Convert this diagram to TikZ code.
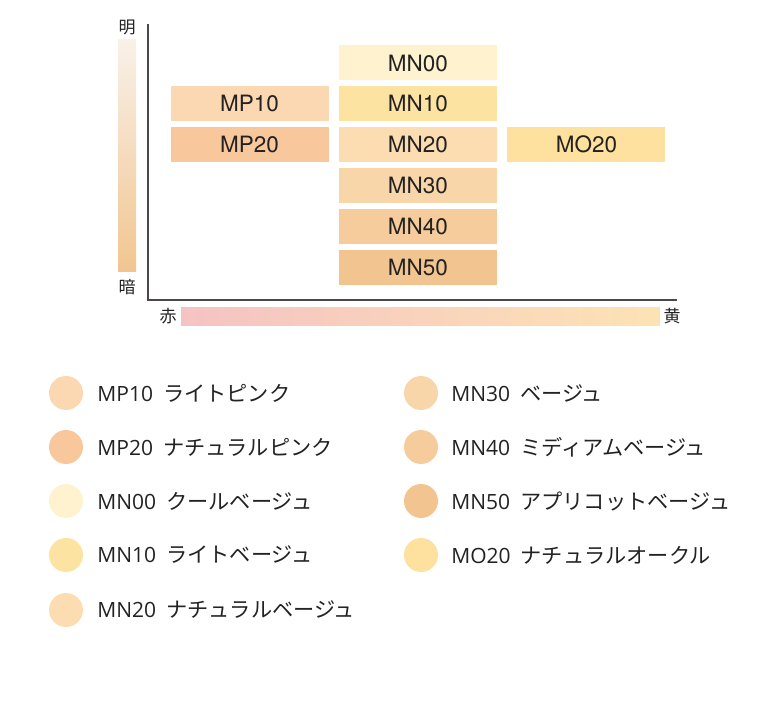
\documentclass[tikz,border=0pt]{standalone}
\usepackage{fontspec}
\usepackage{xcolor}
\usetikzlibrary{positioning}
\newfontfamily\jpfont{Noto Sans CJK JP}
\newfontfamily\codefont{Open Sans}
\newfontfamily\boxfont{TeX Gyre Heros}
\definecolor{cMNzz}{HTML}{FEF2CF}
\definecolor{cMNoz}{HTML}{FDE3A1}
\definecolor{cMNtz}{HTML}{FCDDB2}
\definecolor{cMNhz}{HTML}{F9D6AA}
\definecolor{cMNfz}{HTML}{F7CC9C}
\definecolor{cMNvz}{HTML}{F2C590}
\definecolor{cMPoz}{HTML}{FBD8B2}
\definecolor{cMPtz}{HTML}{F8C89C}
\definecolor{cMOtz}{HTML}{FEE19E}
\definecolor{scaletop}{HTML}{F8F1E8}
\definecolor{scalered}{HTML}{F5C3C3}
\definecolor{scaleyellow}{HTML}{FDE3B4}
\definecolor{axisgray}{HTML}{4E4646}
\definecolor{ink}{HTML}{222222}
\newcommand{\shadeitem}[2]{{\codefont\fontsize{21}{24}\selectfont #1}\hspace{10pt}#2}
\tikzset{
  shadebox/.style={minimum width=158pt, minimum height=35pt, inner sep=0pt,
                   font=\boxfont\fontsize{22.5}{25}\selectfont, text=ink},
  axislbl/.style={font=\jpfont\fontsize{17}{19}\selectfont, text=ink, inner sep=0pt},
  dot/.style={circle, minimum size=34pt, inner sep=0pt},
  legtxt/.style={font=\jpfont\fontsize{21.2}{24}\selectfont, text=ink, inner sep=0pt, anchor=west},
  axisline/.style={draw=axisgray, line width=1.3pt},
}

\begin{document}
\begin{tikzpicture}[x=1pt, y=-1pt, node distance=5.5pt and 10pt]
  \useasboundingbox (0,0) rectangle (780,703);
  % brightness and hue scales
  \shade[top color=scaletop, bottom color=cMNvz] (118,40) rectangle (136,272);
  \shade[left color=scalered, right color=scaleyellow] (181,308) rectangle (660,326);
  \node[axislbl] (bright) at (127,27) {明};
  \node[axislbl] (dark) at (127,287) {暗};
  \node[axislbl] (red) at (168,316) {赤};
  \node[axislbl] (yellow) at (672,316) {黄};
  % axes
  \coordinate (ytop) at (148,24);
  \coordinate (origin) at (148,300);
  \coordinate (xend) at (677,300);
  \draw[axisline] (ytop) -- (origin) -- (xend);
  % shade grid
  \node[shadebox, fill=cMNzz] (mn00) at (418,63) {MN00};
  \node[shadebox, fill=cMNoz, below=of mn00] (mn10) {MN10};
  \node[shadebox, fill=cMNtz, below=of mn10] (mn20) {MN20};
  \node[shadebox, fill=cMNhz, below=of mn20] (mn30) {MN30};
  \node[shadebox, fill=cMNfz, below=of mn30] (mn40) {MN40};
  \node[shadebox, fill=cMNvz, below=of mn40] (mn50) {MN50};
  \node[shadebox, fill=cMPoz, left=of mn10] (mp10) {MP10};
  \node[shadebox, fill=cMPtz, left=of mn20] (mp20) {MP20};
  \node[shadebox, fill=cMOtz, right=of mn20] (mo20) {MO20};
  % legend, left column
  \node[dot, fill=cMPoz] (d-mp10) at (66,393) {};
  \node[legtxt, right=14pt of d-mp10] (t-mp10) {\shadeitem{MP10}{ライトピンク}};
  \node[dot, fill=cMPtz] (d-mp20) at (66,447) {};
  \node[legtxt, right=14pt of d-mp20] (t-mp20) {\shadeitem{MP20}{ナチュラルピンク}};
  \node[dot, fill=cMNzz] (d-mn00) at (66,501) {};
  \node[legtxt, right=14pt of d-mn00] (t-mn00) {\shadeitem{MN00}{クールベージュ}};
  \node[dot, fill=cMNoz] (d-mn10) at (66,555) {};
  \node[legtxt, right=14pt of d-mn10] (t-mn10) {\shadeitem{MN10}{ライトベージュ}};
  \node[dot, fill=cMNtz] (d-mn20) at (66,610) {};
  \node[legtxt, right=14pt of d-mn20] (t-mn20) {\shadeitem{MN20}{ナチュラルベージュ}};
  % legend, right column
  \node[dot, fill=cMNhz] (d-mn30) at (421,393) {};
  \node[legtxt, right=13pt of d-mn30] (t-mn30) {\shadeitem{MN30}{ベージュ}};
  \node[dot, fill=cMNfz] (d-mn40) at (421,447) {};
  \node[legtxt, right=13pt of d-mn40] (t-mn40) {\shadeitem{MN40}{ミディアムベージュ}};
  \node[dot, fill=cMNvz] (d-mn50) at (421,501) {};
  \node[legtxt, right=13pt of d-mn50] (t-mn50) {\shadeitem{MN50}{アプリコットベージュ}};
  \node[dot, fill=cMOtz] (d-mo20) at (421,555) {};
  \node[legtxt, right=13pt of d-mo20] (t-mo20) {\shadeitem{MO20}{ナチュラルオークル}};
\end{tikzpicture}
\end{document}
